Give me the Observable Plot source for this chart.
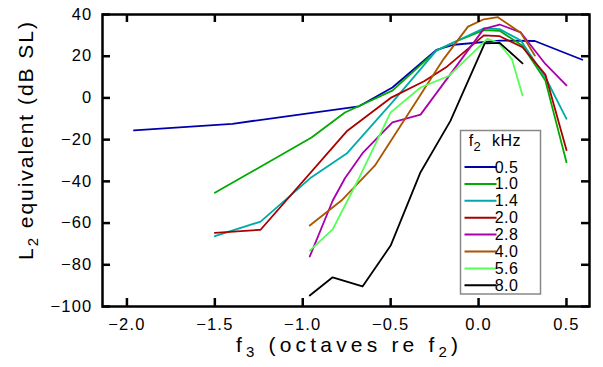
<!DOCTYPE html>
<html>
<head>
<meta charset="utf-8">
<script src="https://cdn.jsdelivr.net/npm/d3@7"></script>
<script src="https://cdn.jsdelivr.net/npm/@observablehq/plot@0.6"></script>
<style>
  html, body { margin: 0; padding: 0; background: white; }
  #chart svg { display: block; }
</style>
</head>
<body>
<div id="chart"></div>
<script>
// f2 (kHz) series labels and colours
const f2Labels = ["0.5", "1.0", "1.4", "2.0", "2.8", "4.0", "5.6", "8.0"];
const f2Colors = ["#0000aa", "#00aa00", "#00aaaa", "#aa0000", "#aa00aa", "#aa5500", "#55ff55", "#000000"];

// f3 (octaves re f2) and L2 equivalent (dB SL) per series
const x05 = [-1.96, -1.40, -0.68, -0.49, -0.24, -0.14, 0.12, 0.32, 0.59];
const y05 = [-15.6, -12.4, -4.0, 5.0, 23.0, 25.5, 27.5, 27.3, 18.3];

const x10 = [-1.50, -0.95, -0.76, -0.49, -0.24, -0.14, 0.03, 0.12, 0.25, 0.38, 0.50];
const y10 = [-45.5, -19.0, -7.0, 3.5, 22.7, 26.7, 32.5, 32.2, 25.0, 8.3, -30.8];

const x14 = [-1.50, -1.24, -0.95, -0.75, -0.49, -0.24, -0.14, 0.03, 0.12, 0.24, 0.38, 0.50];
const y14 = [-66.3, -59.3, -38.0, -26.7, -2.0, 22.7, 26.7, 33.4, 33.0, 27.5, 9.9, -10.0];

const x20 = [-1.50, -1.24, -0.75, -0.50, -0.31, -0.18, 0.03, 0.12, 0.25, 0.38, 0.50];
const y20 = [-64.7, -63.2, -16.0, 0.0, 8.0, 15.0, 30.0, 29.6, 24.3, 11.2, -25.0];

const x28 = [-0.96, -0.83, -0.76, -0.66, -0.49, -0.33, 0.03, 0.12, 0.24, 0.38, 0.50];
const y28 = [-76.0, -49.3, -38.5, -26.5, -11.7, -8.0, 33.1, 35.2, 31.4, 16.3, 6.0];

const x40 = [-0.96, -0.78, -0.59, -0.20, -0.06, 0.03, 0.11, 0.24, 0.32];
const y40 = [-61.2, -49.2, -32.5, 18.5, 34.2, 37.7, 38.7, 31.2, 20.3];

const x56 = [-0.96, -0.83, -0.68, -0.50, -0.33, -0.17, 0.05, 0.11, 0.19, 0.25];
const y56 = [-73.2, -63.0, -38.5, -6.9, 5.0, 10.5, 28.3, 26.7, 18.5, 1.2];

const x80 = [-0.96, -0.83, -0.66, -0.50, -0.33, -0.16, 0.035, 0.12, 0.25];
const y80 = [-94.7, -86.0, -90.4, -70.8, -35.6, -11.0, 26.2, 26.4, 16.6];

const xTicks = [-2.0, -1.5, -1.0, -0.5, 0.0, 0.5];
const yTicks = [-100, -80, -60, -40, -20, 0, 20, 40];

const seriesX = [x05, x10, x14, x20, x28, x40, x56, x80];
const seriesY = [y05, y10, y14, y20, y28, y40, y56, y80];
const data = [];
f2Labels.forEach((f, i) => {
  seriesX[i].forEach((xv, j) => data.push({ f2: f, x: xv, y: seriesY[i][j] }));
});

const font = "'Liberation Sans', Arial, Helvetica, sans-serif";
const W = 603, H = 367, mL = 102, mR = 14, mT = 14, mB = 61, TK = 8;
const frameW = W - mL - mR, frameH = H - mT - mB;

const chart = Plot.plot({
  width: W,
  height: H,
  marginLeft: mL,
  marginRight: mR,
  marginTop: mT,
  marginBottom: mB,
  x: { domain: [-2.139, 0.631] },
  y: { domain: [-100, 40] },
  color: { domain: f2Labels, range: f2Colors },
  style: { fontFamily: font, fontSize: "16.5px", background: "white", color: "black", letterSpacing: "1.2px" },
  marks: [
    Plot.line(data, { x: "x", y: "y", z: "f2", stroke: "f2", strokeWidth: 1.8 }),
    // inward ticks on all four sides
    Plot.tickX(xTicks, { insetTop: frameH - TK, stroke: "black", strokeWidth: 2.5 }),
    Plot.tickX(xTicks, { insetBottom: frameH - TK, stroke: "black", strokeWidth: 2.5 }),
    Plot.tickY(yTicks, { insetRight: frameW - TK, stroke: "black", strokeWidth: 2.5 }),
    Plot.tickY(yTicks, { insetLeft: frameW - TK, stroke: "black", strokeWidth: 2.5 }),
    Plot.axisX({ anchor: "bottom", ticks: xTicks, tickSize: 0, tickPadding: 12, tickFormat: d3.format(".1f"), label: null }),
    Plot.axisY({ anchor: "left", ticks: yTicks, tickSize: 0, tickPadding: 10, tickFormat: d3.format("d"), label: null }),
    Plot.frame({ stroke: "black", strokeWidth: 2.5 })
  ]
});

document.getElementById("chart").appendChild(chart);

const svg = d3.select(chart);

// x axis title
const xt = svg.append("text")
  .attr("x", 347).attr("y", 352)
  .attr("text-anchor", "middle")
  .attr("font-family", font).attr("font-size", 21)
  .attr("letter-spacing", "0px")
  .attr("textLength", 222).attr("lengthAdjust", "spacing")
  .attr("fill", "black");
xt.append("tspan").text("f");
xt.append("tspan").attr("dy", 5).attr("font-size", 15).text("3");
xt.append("tspan").attr("dy", -5).text(" (octaves re f");
xt.append("tspan").attr("dy", 5).attr("font-size", 15).text("2");
xt.append("tspan").attr("dy", -5).text(")");

// y axis title
const yt = svg.append("text")
  .attr("transform", "translate(33,141) rotate(-90)")
  .attr("text-anchor", "middle")
  .attr("font-family", font).attr("font-size", 21)
  .attr("letter-spacing", "0px")
  .attr("textLength", 238).attr("lengthAdjust", "spacing")
  .attr("fill", "black");
yt.append("tspan").text("L");
yt.append("tspan").attr("dy", 5).attr("font-size", 15).text("2");
yt.append("tspan").attr("dy", -5).text(" equivalent (dB SL)");

// legend
const lg = svg.append("g").attr("font-family", font).attr("font-size", 16).attr("fill", "black").attr("letter-spacing", "0.5px");
lg.append("rect")
  .attr("x", 460.5).attr("y", 130.5).attr("width", 80).attr("height", 163.5)
  .attr("fill", "white").attr("stroke", "#888").attr("stroke-width", 1.5);
const hd = lg.append("text").attr("x", 475).attr("y", 146);
hd.append("tspan").text("f");
hd.append("tspan").attr("dy", 5).attr("font-size", 13).text("2");
lg.append("text").attr("x", 506.5).attr("y", 146).text("kHz");
f2Labels.forEach((f, i) => {
  const yy = 167 + i * 16.9;
  lg.append("line").attr("x1", 464.5).attr("x2", 496.5).attr("y1", yy).attr("y2", yy)
    .attr("stroke", f2Colors[i]).attr("stroke-width", 2);
  lg.append("text").attr("x", 506.5).attr("y", yy + 5.5).text(f);
});
</script>
</body>
</html>
